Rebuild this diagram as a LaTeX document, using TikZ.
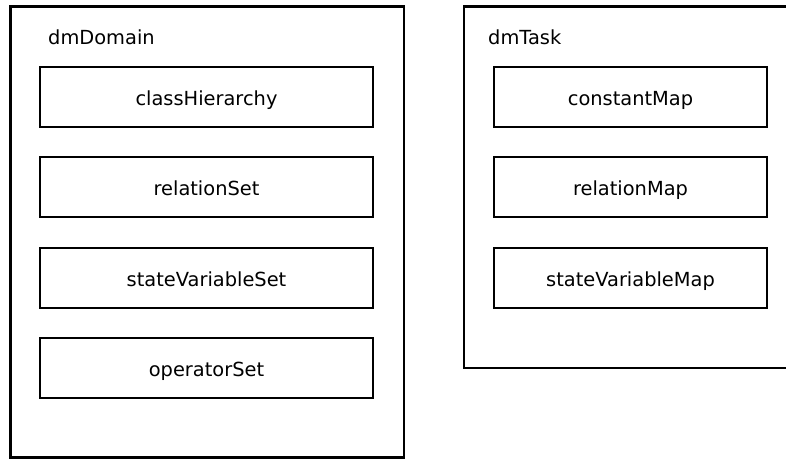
\documentclass[tikz,border=0pt]{standalone}
\usepackage{fontspec}
\setmainfont{DejaVu Sans}
\begin{document}
\begin{tikzpicture}[x=1pt,y=-1pt,
  container/.style={draw=black,line width=2.8pt},
  member/.style={draw=black,line width=2.8pt,minimum width=333pt,minimum height=60pt,inner sep=0pt,
    text height=20pt,text depth=4pt,font=\fontsize{19.4}{22}\selectfont},
  title/.style={anchor=base west,inner sep=0pt,font=\fontsize{19.4}{22}\selectfont}]
\useasboundingbox (0,0) rectangle (786,459);
\clip (0,0) rectangle (786,459);
% dmDomain container
\draw[container] (10.5,6.5) rectangle (404,457.5);
\node[title] (domtitle) at (48,44) {dmDomain};
\node[member] (ch) at (206.5,97) {classHierarchy};
\node[member] (rs) at (206.5,187) {relationSet};
\node[member] (svs) at (206.5,278) {stateVariableSet};
\node[member] (os) at (206.5,368) {operatorSet};
% dmTask container (extends past the right edge)
\draw[container] (464,6.5) rectangle (800,368);
\node[title] (tasktitle) at (488,44) {dmTask};
\node[member,minimum width=273pt] (cm) at (630.5,97) {constantMap};
\node[member,minimum width=273pt] (rm) at (630.5,187) {relationMap};
\node[member,minimum width=273pt] (svm) at (630.5,278) {stateVariableMap};
\end{tikzpicture}
\end{document}
